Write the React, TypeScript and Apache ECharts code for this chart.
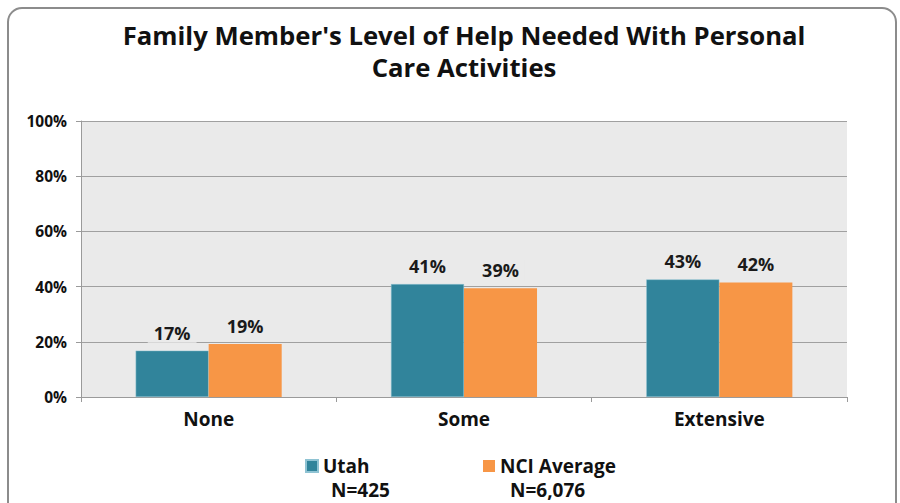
import React, { useEffect, useRef } from "react";
import * as echarts from "echarts";

const categories = ["None", "Some", "Extensive"];
const utahValues = [16.8, 40.9, 42.6];
const nciValues = [19.2, 39.4, 41.5];
const utahLabels = ["17%", "41%", "43%"];
const nciLabels = ["19%", "39%", "42%"];
const seriesNames = ["Utah", "NCI Average"];
const seriesN = ["N=425", "N=6,076"];
const yTicks = [0, 20, 40, 60, 80, 100];

const FONT = "'Open Sans', sans-serif";
const TEAL = "#31849B";
const ORANGE = "#F79646";

export default function App() {
  const ref = useRef<HTMLDivElement>(null);
  useEffect(() => {
    if (!ref.current) return;
    const chart = echarts.init(ref.current, null, { renderer: "svg" });
    const labelStyle = {
      show: true,
      position: "top" as const,
      distance: 8,
      fontFamily: FONT,
      fontWeight: "bold" as const,
      fontSize: 18,
      color: "#1a1a1a",
      backgroundColor: "#EAEAEA",
      padding: [1, 6, 1, 6],
    };
    const legendText = {
      fontFamily: FONT,
      fontWeight: "bold" as const,
      fontSize: 19,
      lineHeight: 20,
      color: "#111",
    };
    chart.setOption({
      animation: false,
      backgroundColor: "#ffffff",
      textStyle: { fontFamily: FONT },
      title: {
        text: "Family Member's Level of Help Needed With Personal\nCare Activities",
        left: 459,
        textAlign: "center",
        top: 14,
        textStyle: {
          fontFamily: FONT,
          fontWeight: "bold",
          fontSize: 25.7,
          lineHeight: 32,
          color: "#111",
        },
      },
      legend: [
        {
          data: [seriesNames[0]],
          left: 305,
          top: 456,
          padding: 0,
          itemWidth: 12,
          itemHeight: 12,
          icon: "rect",
          textStyle: legendText,
        },
        {
          data: [seriesNames[1]],
          left: 483,
          top: 456,
          padding: 0,
          itemWidth: 12,
          itemHeight: 12,
          icon: "rect",
          textStyle: legendText,
        },
      ],
      graphic: [
        {
          type: "rect",
          shape: { x: 8, y: 8, width: 888, height: 540, r: 14 },
          style: { fill: "none", stroke: "#8c8c8c", lineWidth: 2 },
          silent: true,
          z: -1,
        },
        {
          type: "text",
          left: 331,
          top: 480,
          style: {
            text: seriesN[0],
            fontFamily: FONT,
            fontWeight: "bold",
            fontSize: 19,
            fill: "#111",
          },
        },
        {
          type: "text",
          left: 510,
          top: 480,
          style: {
            text: seriesN[1],
            fontFamily: FONT,
            fontWeight: "bold",
            fontSize: 19,
            fill: "#111",
          },
        },
      ],
      grid: {
        left: 81,
        right: 53,
        top: 121,
        bottom: 106,
        show: true,
        backgroundColor: "#EAEAEA",
        borderWidth: 0,
      },
      xAxis: {
        type: "category",
        data: categories,
        axisLine: { show: true, lineStyle: { color: "#9a9a9a", width: 1 } },
        axisTick: { show: true, length: 5, lineStyle: { color: "#9a9a9a" } },
        axisLabel: {
          fontFamily: FONT,
          fontWeight: "bold",
          fontSize: 19,
          color: "#111",
          margin: 12,
        },
      },
      yAxis: {
        type: "value",
        min: yTicks[0],
        max: yTicks[yTicks.length - 1],
        interval: 20,
        axisLine: { show: true, lineStyle: { color: "#9a9a9a", width: 1 } },
        axisTick: { show: true, length: 5, lineStyle: { color: "#9a9a9a" } },
        splitLine: { show: true, lineStyle: { color: "#a0a0a0", width: 1 } },
        axisLabel: {
          fontFamily: FONT,
          fontWeight: "bold",
          fontSize: 15.5,
          color: "#111",
          margin: 14,
          formatter: (v: number) => `${v}%`,
        },
      },
      series: [
        {
          name: seriesNames[0],
          type: "bar",
          data: utahValues,
          barWidth: "28.6%",
          barGap: "0%",
          itemStyle: { color: TEAL, borderColor: "#8fc3d3", borderWidth: 0.5 },
          label: { ...labelStyle, formatter: (p: any) => utahLabels[p.dataIndex] },
        },
        {
          name: seriesNames[1],
          type: "bar",
          data: nciValues,
          barWidth: "28.6%",
          barGap: "0%",
          itemStyle: { color: ORANGE },
          label: { ...labelStyle, formatter: (p: any) => nciLabels[p.dataIndex] },
        },
      ],
    });
    return () => chart.dispose();
  }, []);
  return (
    <div
      ref={ref}
      style={{ position: "fixed", left: 0, top: 0, width: 900, height: 503 }}
    />
  );
}
